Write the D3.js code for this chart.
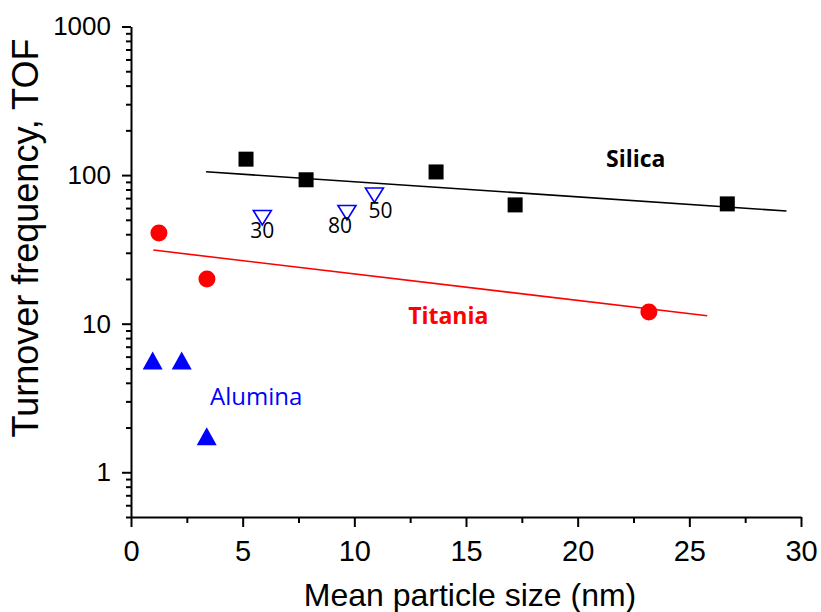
<!DOCTYPE html>
<html>
<head>
<meta charset='UTF-8'>
<title>TOF vs particle size</title>
<script src='https://d3js.org/d3.v7.min.js'></script>
<style>
  body { margin: 0; background: #fff; }
  .axis path, .axis line { stroke: #000; stroke-width: 2; }
  .tick text { font-family: 'Liberation Sans', Arial, sans-serif; fill: #000; }
</style>
</head>
<body>
<div id='graph'></div>
<script>
// data
var silicaX = [5.15, 7.84, 13.66, 17.2, 26.7];
var silicaY = [128, 93, 105, 63, 64];
var silicaFitX = [3.36, 29.35];
var silicaFitY = [105.4, 57.3];

var titaniaX = [1.25, 3.40, 23.19];
var titaniaY = [40.8, 20.0, 12.0];
var titaniaFitX = [1.0, 25.8];
var titaniaFitY = [31.3, 11.3];

var aluminaX = [0.97, 2.27, 3.39];
var aluminaY = [5.65, 5.65, 1.75];

var poreX = [5.88, 9.67, 10.9];
var poreY = [51.8, 56, 73.5];
var poreLabels = ['30', '80', '50'];

var xTicks = [0, 5, 10, 15, 20, 25, 30];
var xMinor = [2.5, 7.5, 12.5, 17.5, 22.5, 27.5];
var yTicks = [1, 10, 100, 1000];
var yMinor = [0.5, 0.6, 0.7, 0.8, 0.9, 2, 3, 4, 5, 6, 7, 8, 9,
              20, 30, 40, 50, 60, 70, 80, 90, 200, 300, 400, 500, 600, 700, 800, 900];

var width = 821, height = 612;

var svg = d3.select('#graph').append('svg')
    .attr('width', width)
    .attr('height', height);

var x = d3.scaleLinear().domain([0, 30]).range([131, 801]);
var y = d3.scaleLog().domain([0.5, 1000]).range([517, 26.5]);

// axes
var xAxis = svg.append('g')
    .attr('class', 'axis')
    .attr('transform', 'translate(0,' + y(0.5) + ')')
    .call(d3.axisBottom(x).tickValues(xTicks).tickSize(10).tickSizeOuter(0).tickPadding(13));
xAxis.selectAll('text').style('font-size', '29px');

svg.append('g')
    .attr('class', 'axis')
    .attr('transform', 'translate(0,' + y(0.5) + ')')
    .call(d3.axisBottom(x).tickValues(xMinor).tickSize(6).tickFormat(''))
    .select('.domain').remove();

var yAxis = svg.append('g')
    .attr('class', 'axis')
    .attr('transform', 'translate(' + x(0) + ',0)')
    .call(d3.axisLeft(y).tickValues(yTicks).tickFormat(d3.format('d')).tickSize(9).tickSizeOuter(0).tickPadding(11));
yAxis.selectAll('text').style('font-size', '26px');

svg.append('g')
    .attr('class', 'axis')
    .attr('transform', 'translate(' + x(0) + ',0)')
    .call(d3.axisLeft(y).tickValues(yMinor).tickSize(5).tickFormat(''))
    .select('.domain').remove();

// axis titles
svg.append('text')
   .attr('x', 470)
   .attr('y', 606)
   .attr('text-anchor', 'middle')
   .style('font-family', "'Liberation Sans', Arial, sans-serif")
   .style('font-size', '32px')
   .text('Mean particle size (nm)');

svg.append('text')
   .attr('transform', 'translate(38,238) rotate(-90)')
   .attr('text-anchor', 'middle')
   .style('font-family', "'Liberation Sans', Arial, sans-serif")
   .style('font-size', '36px')
   .text('Turnover frequency, TOF');

// fit lines
var line = d3.line().x(d => x(d[0])).y(d => y(d[1]));

svg.append('path')
   .datum(d3.zip(silicaFitX, silicaFitY))
   .attr('d', line)
   .attr('fill', 'none')
   .attr('stroke', '#000')
   .attr('stroke-width', 1.6);

svg.append('path')
   .datum(d3.zip(titaniaFitX, titaniaFitY))
   .attr('d', line)
   .attr('fill', 'none')
   .attr('stroke', '#ff0000')
   .attr('stroke-width', 1.6);

// silica squares
svg.selectAll('rect.silica')
   .data(d3.zip(silicaX, silicaY))
   .enter()
   .append('rect')
   .attr('class', 'silica')
   .attr('x', d => x(d[0]) - 7.5)
   .attr('y', d => y(d[1]) - 7.5)
   .attr('width', 15)
   .attr('height', 15)
   .attr('fill', '#000');

// titania circles
svg.selectAll('circle.titania')
   .data(d3.zip(titaniaX, titaniaY))
   .enter()
   .append('circle')
   .attr('class', 'titania')
   .attr('cx', d => x(d[0]))
   .attr('cy', d => y(d[1]))
   .attr('r', 8.5)
   .attr('fill', '#ff0000');

// alumina triangles
svg.selectAll('path.alumina')
   .data(d3.zip(aluminaX, aluminaY))
   .enter()
   .append('path')
   .attr('class', 'alumina')
   .attr('transform', d => 'translate(' + x(d[0]) + ',' + y(d[1]) + ')')
   .attr('d', 'M0,-9L10,9L-10,9Z')
   .attr('fill', '#0000ff');

// open down-triangles (silica, pore size labels)
var labelOffset = [[0, 20], [-7, 20], [6, 23]];

svg.selectAll('path.pore')
   .data(d3.zip(poreX, poreY))
   .enter()
   .append('path')
   .attr('class', 'pore')
   .attr('transform', d => 'translate(' + x(d[0]) + ',' + y(d[1]) + ')')
   .attr('d', 'M-9,-7L9,-7L0,7.5Z')
   .attr('fill', '#fff')
   .attr('stroke', '#0000ff')
   .attr('stroke-width', 1.6);

svg.selectAll('text.pore')
   .data(d3.zip(poreX, poreY, poreLabels))
   .enter()
   .append('text')
   .attr('class', 'pore')
   .attr('x', (d, i) => x(d[0]) + labelOffset[i][0])
   .attr('y', (d, i) => y(d[1]) + labelOffset[i][1])
   .attr('text-anchor', 'middle')
   .style('font-family', "'Open Sans', sans-serif")
   .style('font-size', '21px')
   .text(d => d[2]);

// series labels
svg.append('text')
   .attr('x', x(21.27))
   .attr('y', y(114))
   .style('font-family', "'Open Sans', sans-serif")
   .style('font-weight', 'bold')
   .style('font-size', '23px')
   .text('Silica');

svg.append('text')
   .attr('x', x(12.41))
   .attr('y', y(9.9))
   .style('font-family', "'Open Sans', sans-serif")
   .style('font-weight', 'bold')
   .style('font-size', '23px')
   .attr('fill', '#ff0000')
   .text('Titania');

svg.append('text')
   .attr('x', x(3.54))
   .attr('y', y(2.84))
   .style('font-family', "'Open Sans', sans-serif")
   .style('font-size', '24px')
   .attr('fill', '#0000ff')
   .text('Alumina');
</script>
</body>
</html>
